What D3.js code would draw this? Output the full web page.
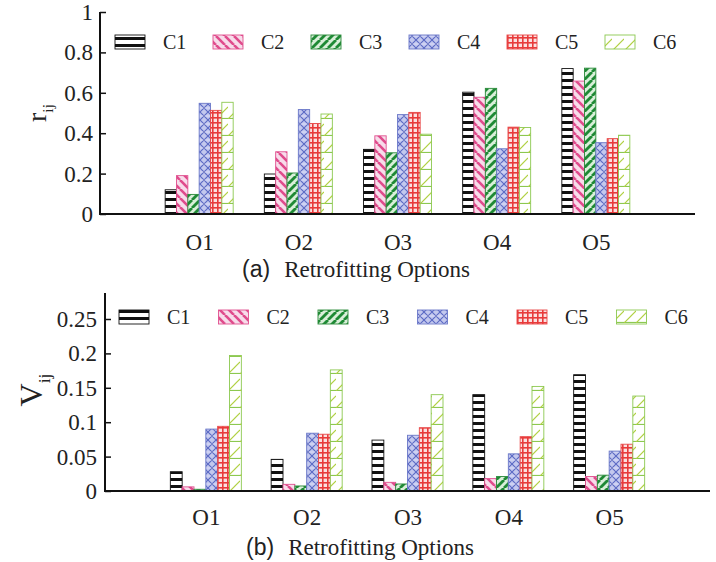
<!DOCTYPE html>
<html><head><meta charset="utf-8">
<script src="https://cdn.jsdelivr.net/npm/d3@7"></script>
<style>body{margin:0;background:#fff}svg{display:block}</style>
</head><body>
<svg id="c" width="716" height="562"></svg>
<script>
const categories = ["O1","O2","O3","O4","O5"];
const series = ["C1","C2","C3","C4","C5","C6"];
// r_ij values, one array per series (O1..O5)
const rC1 = [0.12, 0.198, 0.32, 0.603, 0.72];
const rC2 = [0.19, 0.308, 0.387, 0.578, 0.658];
const rC3 = [0.097, 0.203, 0.303, 0.622, 0.722];
const rC4 = [0.548, 0.517, 0.492, 0.323, 0.353];
const rC5 = [0.513, 0.448, 0.503, 0.43, 0.373];
const rC6 = [0.553, 0.495, 0.395, 0.428, 0.39];
// V_ij values
const vC1 = [0.028, 0.046, 0.074, 0.14, 0.169];
const vC2 = [0.006, 0.0097, 0.0126, 0.018, 0.021];
const vC3 = [0.0025, 0.0073, 0.0102, 0.021, 0.023];
const vC4 = [0.09, 0.084, 0.081, 0.054, 0.058];
const vC5 = [0.094, 0.0825, 0.092, 0.079, 0.068];
const vC6 = [0.197, 0.176, 0.14, 0.152, 0.138];
const rTicks = [0, 0.2, 0.4, 0.6, 0.8, 1];
const rTickLabels = ["0","0.2","0.4","0.6","0.8","1"];
const vTicks = [0, 0.05, 0.1, 0.15, 0.2, 0.25];
const vTickLabels = ["0","0.05","0.1","0.15","0.2","0.25"];

const svg = d3.select("#c");
const defs = svg.append("defs");
const serif = "'Liberation Serif','Times New Roman',serif";
const sans = "'Liberation Sans',Arial,sans-serif";

const strokeCol = {C1:"#111", C2:"#e0508f", C3:"#2a8a3a", C4:"#6a78c8", C5:"#e84848", C6:"#8cc850"};
function pat(id, w, h, bg, draw){
  const p = defs.append("pattern").attr("id", id).attr("patternUnits","userSpaceOnUse")
    .attr("width", w).attr("height", h);
  p.append("rect").attr("width", w).attr("height", h).attr("fill", bg);
  draw(p);
}
pat("pC1", 8, 7, "#fff", p => p.append("rect").attr("x",0).attr("y",2).attr("width",8).attr("height",3).attr("fill","#111"));
pat("pC2", 9, 9, "#f7dcea", p => {
  [-9,0,9].forEach(dx=>p.append("line").attr("x1",dx).attr("y1",0).attr("x2",dx+9).attr("y2",9)
    .attr("stroke","#e04b8c").attr("stroke-width",2.6));
});
pat("pC3", 8, 8, "#d9efd9", p => {
  [-8,0,8].forEach(dx=>p.append("line").attr("x1",dx).attr("y1",8).attr("x2",dx+8).attr("y2",0)
    .attr("stroke","#1f8a35").attr("stroke-width",2.8));
});
pat("pC4", 8, 8, "#c3c8ee", p => {
  p.append("path").attr("d","M0,0L8,8M8,0L0,8").attr("stroke","#5a68c4").attr("stroke-width",1.1).attr("fill","none");
  p.append("circle").attr("cx",4).attr("cy",4).attr("r",0.9).attr("fill","#3d4aa8");
  p.append("path").attr("d","M0,4L8,4").attr("stroke","#e8eaff").attr("stroke-width",0.6);
});
pat("pC5", 5, 5, "#fbe0e0", p => {
  p.append("rect").attr("x",2).attr("y",0).attr("width",1.6).attr("height",5).attr("fill","#e83a3a");
  p.append("rect").attr("x",0).attr("y",2).attr("width",5).attr("height",1.6).attr("fill","#e83a3a");
});
pat("pC6", 12, 17, "#fff", p => {
  p.append("line").attr("x1",0).attr("y1",16.5).attr("x2",12).attr("y2",16.5).attr("stroke","#8cc850").attr("stroke-width",1.2);
  p.append("line").attr("x1",0).attr("y1",17).attr("x2",12).attr("y2",5).attr("stroke","#b0d040").attr("stroke-width",1.2);
});

function panel(cfg){
  const x = d3.scalePoint().domain(categories).range([cfg.x0, cfg.x1]).padding(1);
  const xi = d3.scaleBand().domain(series).range([-cfg.gw/2, cfg.gw/2]).paddingInner(0);
  const y = d3.scaleLinear().domain([0, cfg.ymax]).range([cfg.y0, cfg.y1]);
  const g = svg.append("g");
  series.forEach((s, si) => {
    const vals = cfg.data[si];
    g.selectAll(null).data(categories.map((c,i)=>({c, v: vals[i]}))).join("rect")
      .attr("x", d => x(d.c) + xi(s))
      .attr("y", d => y(d.v))
      .attr("width", xi.bandwidth())
      .attr("height", d => y(0) - y(d.v))
      .attr("fill", `url(#p${s})`)
      .attr("stroke", strokeCol[s]).attr("stroke-width", 0.9);
  });
  const ya = d3.axisRight(y).tickValues(cfg.ticks).tickFormat(()=>"").tickSize(6).tickSizeOuter(0);
  const yg = g.append("g").attr("transform", `translate(${cfg.x0},0)`).call(ya);
  yg.select(".domain").remove();
  yg.selectAll(".tick line").attr("stroke","#111").attr("stroke-width",1.5);
  g.append("line").attr("x1",cfg.x0).attr("x2",cfg.x0).attr("y1",y(0)+1).attr("y2",cfg.axisTop)
    .attr("stroke","#111").attr("stroke-width",2);
  g.selectAll(null).data(cfg.ticks).join("text")
    .attr("x", cfg.x0 - cfg.lblGap).attr("y", d => y(d)).attr("dy","0.35em")
    .attr("text-anchor","end").attr("font-family", serif).attr("font-size", 23).attr("fill","#222")
    .text((d,i)=>cfg.tickLabels[i]);
  const xa = d3.axisBottom(x).tickSize(0).tickPadding(0);
  const xg = g.append("g").attr("transform", `translate(0,${y(0)})`).call(xa);
  xg.select(".domain").remove();
  xg.selectAll(".tick text").attr("font-family", serif).attr("font-size", 23).attr("fill","#222")
    .attr("dy", null).attr("y", cfg.catDy);
  g.append("line").attr("x1",cfg.x0-1).attr("x2",cfg.x1).attr("y1",y(0)).attr("y2",y(0))
    .attr("stroke","#111").attr("stroke-width",2.2);
  const t = g.append("text").attr("x", cfg.titleX).attr("y", cfg.titleY).attr("fill","#222");
  t.append("tspan").attr("font-family", sans).attr("font-size", 23).text(cfg.tag);
  t.append("tspan").attr("font-family", serif).attr("font-size", 23).attr("dx", 14).text("Retrofitting Options");
  const yt = g.append("text").attr("transform", `translate(${cfg.ytX},${cfg.ytY}) rotate(-90)`)
    .attr("text-anchor","middle").attr("font-family", serif).attr("fill","#222");
  yt.append("tspan").attr("font-size", cfg.ytSize).text(cfg.ytMain);
  yt.append("tspan").attr("font-size", cfg.ytSize*0.55).attr("dy", cfg.ytSize*0.25).text("ij");
  const lg = g.append("g");
  series.forEach((s, i) => {
    const lx = cfg.legX + i * cfg.legStep;
    lg.append("rect").attr("x", lx).attr("y", cfg.legY - 7).attr("width", 30).attr("height", 14)
      .attr("fill", `url(#p${s})`).attr("stroke", strokeCol[s]).attr("stroke-width", 0.9);
    lg.append("text").attr("x", lx + 48).attr("y", cfg.legY).attr("dy","0.35em")
      .attr("font-family", serif).attr("font-size", 20).attr("fill","#222").text(s);
  });
}

panel({x0:100, x1:695, gw:68, y0:214, y1:12, ymax:1, axisTop:12, ticks:rTicks, tickLabels:rTickLabels,
  lblGap:7, data:[rC1,rC2,rC3,rC4,rC5,rC6], catDy:36, titleX:242, titleY:277, tag:"(a)",
  ytX:46, ytY:113, ytSize:28, ytMain:"r", legX:115, legY:42, legStep:98});
panel({x0:105, x1:710, gw:71, y0:491, y1:319, ymax:0.25, axisTop:293, ticks:vTicks, tickLabels:vTickLabels,
  lblGap:8, data:[vC1,vC2,vC3,vC4,vC5,vC6], catDy:34, titleX:246, titleY:555, tag:"(b)",
  ytX:42, ytY:390, ytSize:32, ytMain:"V", legX:119, legY:317, legStep:99.5});
</script>
</body></html>
